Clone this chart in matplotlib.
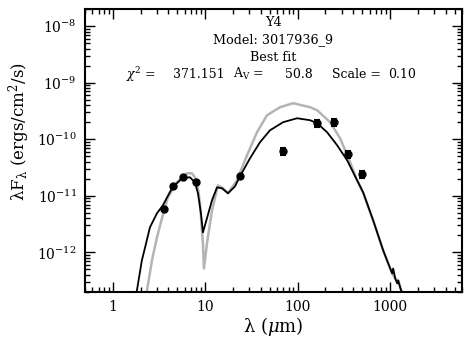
import matplotlib
matplotlib.use("Agg")
import matplotlib.pyplot as plt
from matplotlib.ticker import LogLocator, NullFormatter

# observed photometry (micron, erg/cm^2/s)
obs_wave = [3.6, 4.5, 5.8, 8.0, 24.0, 70.0, 160.0, 250.0, 350.0, 500.0]
obs_flux = [5.8e-12, 1.47e-11, 2.12e-11, 1.73e-11, 2.21e-11,
            6.1e-11, 1.92e-10, 2.0e-10, 5.4e-11, 2.4e-11]
obs_err = [0.3e-12, 0.7e-12, 1.0e-12, 0.9e-12, 1.1e-12,
           9.0e-12, 2.9e-11, 3.0e-11, 8.0e-12, 3.6e-12]

# best fit model (black)
fit_wave = [1.82, 2.06, 2.22, 2.52, 3.0, 3.48, 4.36, 5.59, 6.83, 7.73, 8.34,
            8.98, 9.44, 10.43, 11.82, 13.39, 15.17, 17.62, 20.98, 23.76, 30.5,
            39.1, 50.2, 69.5, 98.5, 136.2, 162.3, 208.2, 267.3, 342.9, 429.2,
            510.9, 655.9, 842.0, 954.0, 1054.0, 1080.0, 1136.0, 1194.0, 1224.0,
            1286.0, 1352.0]
fit_flux = [2.1e-13, 7.2e-13, 1.18e-12, 2.77e-12, 4.9e-12, 6.8e-12, 1.36e-11,
            2.04e-11, 2.13e-11, 1.73e-11, 1.11e-11, 4.9e-12, 2.26e-12, 4.0e-12,
            8.3e-12, 1.41e-11, 1.36e-11, 1.11e-11, 1.47e-11, 2.21e-11, 4.61e-11,
            8.85e-11, 1.44e-10, 2.0e-10, 2.35e-10, 2.17e-10, 1.92e-10, 1.33e-10,
            7.83e-11, 4.25e-11, 2.04e-11, 1.15e-11, 3.68e-12, 1.085e-12,
            6.4e-13, 4.25e-13, 5.2e-13, 3.47e-13, 2.83e-13, 3.19e-13, 2.4e-13,
            1.88e-13]

# unextincted model (grey)
raw_wave = [2.34, 2.65, 3.0, 3.4, 3.94, 4.94, 6.34, 7.18, 8.13, 8.76, 9.44,
            9.68, 10.43, 11.82, 13.73, 15.55, 17.62, 22.05, 28.3, 36.3, 46.6,
            64.5, 89.2, 136.2, 162.3, 224.4, 288.0, 369.6, 429.2, 510.9, 655.9,
            842.0, 954.0, 1054.0, 1136.0, 1224.0, 1352.0]
raw_flux = [2.1e-13, 7.2e-13, 1.84e-12, 4.0e-12, 9.4e-12, 1.73e-11, 2.5e-11,
            2.5e-11, 1.88e-11, 7.4e-12, 1.44e-12, 5.2e-13, 1.44e-12, 5.5e-12,
            1.53e-11, 1.36e-11, 1.11e-11, 1.88e-11, 5.2e-11, 1.33e-10, 2.66e-10,
            3.68e-10, 4.34e-10, 3.68e-10, 3.26e-10, 2.0e-10, 1.04e-10, 3.92e-11,
            2.04e-11, 1.15e-11, 3.68e-12, 1.085e-12, 6.4e-13, 4.25e-13,
            3.47e-13, 3.19e-13, 1.88e-13]

x_ticks = [1, 10, 100, 1000]
x_labels = ["1", "10", "100", "1000"]

title_lines = ["Y4", "Model: 3017936_9", "Best fit"]
stat_texts = [r"$\chi^2$ =", "371.151", r"A$_\mathrm{V}$ =", "50.8", "Scale =", "0.10"]
stat_pos = [0.109, 0.233, 0.393, 0.531, 0.655, 0.804]

plt.rcParams["font.family"] = "DejaVu Serif"
plt.rcParams["mathtext.fontset"] = "dejavuserif"

fig = plt.figure(figsize=(4.71, 3.48), dpi=100)
ax = fig.add_axes([0.1805, 0.161, 0.8004, 0.813])

ax.plot(raw_wave, raw_flux, color="#b4b4b4", lw=1.8, zorder=2)
ax.plot(fit_wave, fit_flux, color="black", lw=1.3, zorder=3)
ax.errorbar(obs_wave, obs_flux, yerr=obs_err, fmt="o", color="black",
            ms=5, capsize=2.5, capthick=1.5, elinewidth=1.5, zorder=4)

ax.set_xscale("log")
ax.set_yscale("log")
ax.set_xlim(0.5, 6000)
ax.set_ylim(2e-13, 2e-8)

ax.set_xticks(x_ticks)
ax.set_xticklabels(x_labels)
ax.xaxis.set_minor_locator(LogLocator(base=10, subs=range(2, 10), numticks=20))
ax.xaxis.set_minor_formatter(NullFormatter())
ax.yaxis.set_major_locator(LogLocator(base=10, numticks=20))
ax.yaxis.set_minor_locator(LogLocator(base=10, subs=range(2, 10), numticks=20))
ax.yaxis.set_minor_formatter(NullFormatter())

ax.tick_params(which="both", direction="in", top=True, right=True, width=1)
ax.tick_params(which="major", length=7, labelsize=10, pad=6)
ax.tick_params(which="minor", length=3.5)
for sp in ax.spines.values():
    sp.set_linewidth(1.5)

ax.set_xlabel(r"λ ($\mu$m)", fontsize=13)
ax.xaxis.set_label_coords(0.5, -0.08)
ax.set_ylabel(r"λF$_\mathrm{λ}$ (ergs/cm$^2$/s)", fontsize=12)
ax.yaxis.set_label_coords(-0.14, 0.565)

for i, line in enumerate(title_lines):
    ax.text(0.5, 0.954 - 0.062 * i, line, transform=ax.transAxes,
            ha="center", va="center", fontsize=9.2)
for s, xp in zip(stat_texts, stat_pos):
    ax.text(xp, 0.770, s, transform=ax.transAxes, ha="left", va="center",
            fontsize=9)

fig.savefig("out.png", dpi=100)
